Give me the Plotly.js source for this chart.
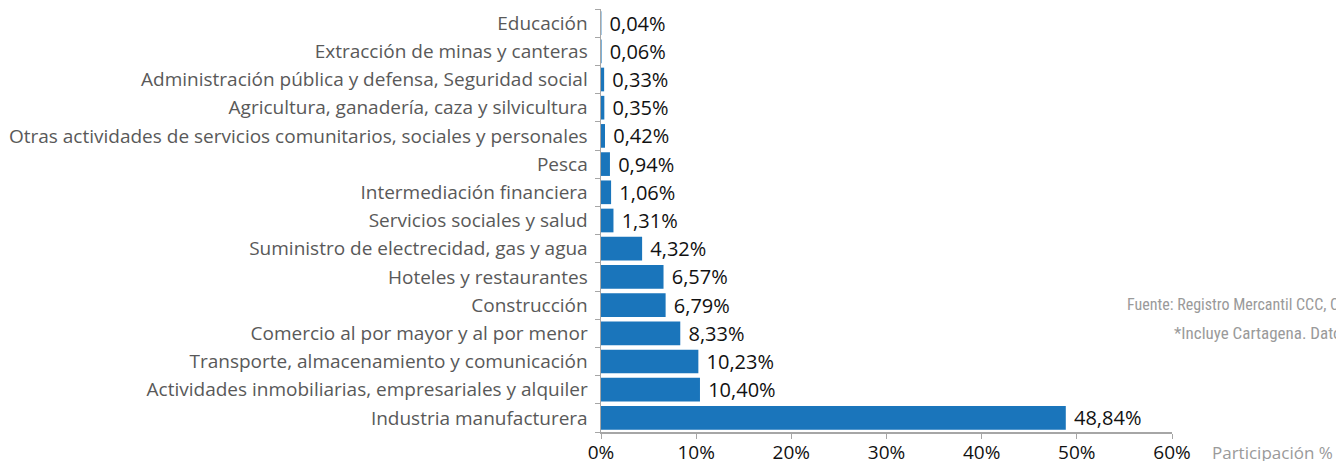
<!DOCTYPE html>
<html><head><meta charset="utf-8">
<script src="https://cdn.plot.ly/plotly-3.0.1.min.js"></script>
<style>html,body{margin:0;padding:0;background:#fff;}#chart{width:1336px;height:461px;}</style>
</head><body><div id="chart"></div>
<script>
var categories = [
  "Industria manufacturera",
  "Actividades inmobiliarias, empresariales y alquiler",
  "Transporte, almacenamiento y comunicación",
  "Comercio al por mayor y al por menor",
  "Construcción",
  "Hoteles y restaurantes",
  "Suministro de electrecidad, gas y agua",
  "Servicios sociales y salud",
  "Intermediación financiera",
  "Pesca",
  "Otras actividades de servicios comunitarios, sociales y personales",
  "Agricultura, ganadería, caza y silvicultura",
  "Administración pública y defensa, Seguridad social",
  "Extracción de minas y canteras",
  "Educación"
];
var values = [48.84, 10.40, 10.23, 8.33, 6.79, 6.57, 4.32, 1.31, 1.06, 0.94, 0.42, 0.35, 0.33, 0.06, 0.04];
var xTicks = [0, 10, 20, 30, 40, 50, 60];
var xTickLabels = ["0%", "10%", "20%", "30%", "40%", "50%", "60%"];
var footnotes = ["Fuente: Registro Mercantil CCC, Cálculos", "*Incluye Cartagena. Datos"];
var axisTitle = "Participación %";

var labels = values.map(function(v){ return '\u00A0' + v.toFixed(2).replace('.', ',') + '%'; });
var font = "Open Sans, DejaVu Sans, sans-serif";
var narrow = "Liberation Sans Narrow, Roboto Condensed, sans-serif";

var trace = {
  type: 'bar', orientation: 'h',
  x: values, y: categories,
  marker: {color: '#1a75bb'},
  text: labels, textposition: 'outside', cliponaxis: false, constraintext: 'none',
  textfont: {family: font, size: 20, color: '#111'},
  hoverinfo: 'none'
};

var layout = {
  width: 1336, height: 461,
  margin: {l: 601, r: 164, t: 9, b: 29, pad: 0},
  paper_bgcolor: '#fff', plot_bgcolor: '#fff',
  showlegend: false,
  bargap: 0.16,
  font: {family: font},
  xaxis: {
    range: [0, 60], tickmode: 'array', tickvals: xTicks, ticktext: xTickLabels,
    showgrid: false, zeroline: false,
    showline: true, linecolor: '#a6a6a6', linewidth: 1.5,
    ticks: 'outside', ticklen: 5, tickcolor: '#a6a6a6', ticklabelstandoff: -2,
    tickfont: {family: font, size: 19, color: '#111'},
    fixedrange: true
  },
  yaxis: {
    type: 'category', showgrid: false, zeroline: false,
    showline: true, linecolor: '#a6a6a6', linewidth: 1.5,
    ticks: 'outside', ticklen: 5, tickcolor: '#a6a6a6', tickson: 'boundaries',
    ticklabelstandoff: 8,
    tickfont: {family: font, size: 19, color: '#595959'},
    automargin: false, fixedrange: true
  },
  annotations: [
    {xref: 'paper', yref: 'paper', x: 1.066, y: 0, yshift: -20, xanchor: 'left', yanchor: 'middle',
     text: axisTitle, showarrow: false, font: {family: font, size: 17, color: '#9a9a9a'}},
    {xref: 'paper', yref: 'paper', x: 0.917, y: 0.302, xanchor: 'left', yanchor: 'middle',
     text: footnotes[0], showarrow: false, font: {family: narrow, size: 16, color: '#9a9a9a'}},
    {xref: 'paper', yref: 'paper', x: 1.0, y: 0.233, xanchor: 'left', yanchor: 'middle',
     text: footnotes[1], showarrow: false, font: {family: narrow, size: 17, color: '#9a9a9a'}}
  ]
};

Plotly.newPlot('chart', [trace], layout, {displayModeBar: false, staticPlot: true});
</script></body></html>
